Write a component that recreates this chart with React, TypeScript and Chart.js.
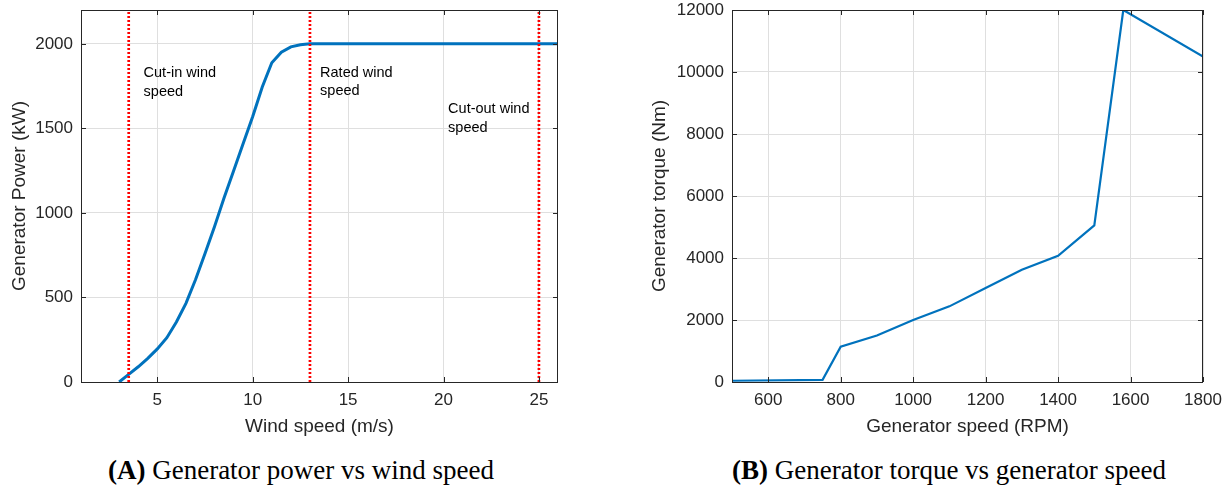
import React, { useEffect, useRef } from "react";
import { Chart, registerables } from "chart.js";

Chart.register(...registerables);

// (A) power curve of a 2 MW turbine
const windSpeed = [3, 3.5, 4, 4.5, 5, 5.5, 6, 6.5, 7, 7.5, 8, 8.5, 9, 9.5, 10, 10.5, 11, 11.5, 12, 12.5, 13, 26];
const generatorPower = [0, 45, 90, 140, 196, 262, 355, 465, 605, 760, 920, 1090, 1250, 1410, 1570, 1745, 1888, 1950, 1982, 1995, 2000, 2000];
const markerSpeeds = [3.5, 13, 25];
const markerLabels = [
  ["Cut-in wind", "speed"],
  ["Rated wind", "speed"],
  ["Cut-out wind", "speed"],
];
const markerLabelSpeed = [4.28, 13.53, 20.24];
const markerLabelPower = [1770, 1775, 1560];
const windTicks = [5, 10, 15, 20, 25];
const powerTicks = [0, 500, 1000, 1500, 2000];
const windRange = [1, 26];
const powerRange = [0, 2200];

// (B) torque against rotor speed
const generatorSpeed = [500, 750, 800, 900, 1000, 1100, 1200, 1300, 1400, 1500, 1580, 1800];
const generatorTorque = [40, 70, 1140, 1500, 2000, 2440, 3030, 3620, 4070, 5050, 12000, 10500];
const speedTicks = [600, 800, 1000, 1200, 1400, 1600, 1800];
const torqueTicks = [0, 2000, 4000, 6000, 8000, 10000, 12000];
const speedRange = [500, 1800];
const torqueRange = [0, 12000];

const AXIS = "#262626";
const GRID = "#dfdfdf";
const BLUE = "#0072BD";
const SANS = "'Liberation Sans', Arial, Helvetica, sans-serif";

type Label = { lines: string[]; x: number; y: number };

// box, inward tick marks on all four sides, and text labels in data coordinates
function framePlugin(labels: Label[]) {
  return {
    id: "frame",
    afterDatasetsDraw(chart: any) {
      const { ctx, chartArea: a, scales } = chart;
      const tl = 5;
      ctx.save();
      ctx.strokeStyle = AXIS;
      ctx.lineWidth = 1;
      ctx.beginPath();
      for (const t of scales.x.ticks) {
        const p = Math.round(scales.x.getPixelForValue(t.value)) + 0.5;
        ctx.moveTo(p, a.bottom);
        ctx.lineTo(p, a.bottom - tl);
        ctx.moveTo(p, a.top);
        ctx.lineTo(p, a.top + tl);
      }
      for (const t of scales.y.ticks) {
        const p = Math.round(scales.y.getPixelForValue(t.value)) + 0.5;
        ctx.moveTo(a.left, p);
        ctx.lineTo(a.left + tl, p);
        ctx.moveTo(a.right, p);
        ctx.lineTo(a.right - tl, p);
      }
      ctx.stroke();
      ctx.strokeRect(a.left + 0.5, a.top + 0.5, a.right - a.left - 1, a.bottom - a.top);

      ctx.fillStyle = "#000";
      ctx.font = `14.5px ${SANS}`;
      ctx.textAlign = "left";
      ctx.textBaseline = "middle";
      const lh = 18.7;
      for (const l of labels) {
        const x = scales.x.getPixelForValue(l.x);
        const yc = scales.y.getPixelForValue(l.y);
        const y0 = yc - ((l.lines.length - 1) * lh) / 2;
        l.lines.forEach((s, i) => ctx.fillText(s, x, y0 + i * lh));
      }
      ctx.restore();
    },
  };
}

type PanelSpec = {
  width: number;
  height: number;
  yAxisWidth: number;
  padRight: number;
  yTitlePad: number;
  xTitle: string;
  yTitle: string;
  xRange: number[];
  yRange: number[];
  xTicks: number[];
  yTicks: number[];
  datasets: any[];
  labels: Label[];
};

function Panel({ spec, left }: { spec: PanelSpec; left: number }) {
  const ref = useRef<HTMLCanvasElement>(null);
  useEffect(() => {
    const s = spec;
    const tickFont = { family: SANS, size: 17 };
    const titleFont = { family: SANS, size: 19 };
    const chart = new Chart(ref.current!, {
      type: "line",
      data: { datasets: s.datasets },
      plugins: [framePlugin(s.labels)],
      options: {
        animation: false,
        responsive: false,
        devicePixelRatio: 1,
        layout: { padding: { left: 0, right: s.padRight, top: 10, bottom: 0 } },
        plugins: { legend: { display: false }, tooltip: { enabled: false } },
        elements: { point: { radius: 0 } },
        scales: {
          x: {
            type: "linear",
            min: s.xRange[0],
            max: s.xRange[1],
            afterBuildTicks: (sc: any) => {
              sc.ticks = s.xTicks.map((v) => ({ value: v }));
            },
            afterFit: (sc: any) => {
              sc.height = s.height - 382;
              sc.paddingLeft = 0;
              sc.paddingRight = 0;
            },
            grid: { color: GRID, lineWidth: 1, drawTicks: false },
            border: { display: false },
            ticks: {
              padding: 8.5,
              color: AXIS,
              font: tickFont,
              maxRotation: 0,
              autoSkip: false,
              callback: (v: any) => String(v),
            },
            title: { display: true, text: s.xTitle, color: AXIS, font: titleFont, padding: { top: 0, bottom: 1.6 } },
          },
          y: {
            type: "linear",
            min: s.yRange[0],
            max: s.yRange[1],
            afterBuildTicks: (sc: any) => {
              sc.ticks = s.yTicks.map((v) => ({ value: v }));
            },
            afterFit: (sc: any) => {
              sc.width = s.yAxisWidth;
              sc.paddingTop = 0;
              sc.paddingBottom = 0;
            },
            grid: { color: GRID, lineWidth: 1, drawTicks: false },
            border: { display: false },
            ticks: {
              padding: 8,
              color: AXIS,
              font: tickFont,
              autoSkip: false,
              callback: (v: any) => String(v),
            },
            title: { display: true, text: s.yTitle, color: AXIS, font: titleFont, padding: { top: s.yTitlePad, bottom: 0 } },
          },
        },
      } as any,
    });
    return () => chart.destroy();
  }, [spec]);
  return (
    <canvas
      ref={ref}
      width={spec.width}
      height={spec.height}
      style={{ position: "absolute", left, top: 0, width: spec.width, height: spec.height }}
    />
  );
}

const markerDatasets = markerSpeeds.map((x) => ({
  data: [
    { x, y: powerRange[0] },
    { x, y: powerRange[1] },
  ],
  borderColor: "#ff0000",
  borderWidth: 2.7,
  borderDash: [2, 2],
  borderCapStyle: "butt",
}));

const powerSpec: PanelSpec = {
  width: 600,
  height: 440,
  yAxisWidth: 81,
  padRight: 42,
  yTitlePad: 8.5,
  xTitle: "Wind speed (m/s)",
  yTitle: "Generator Power (kW)",
  xRange: windRange,
  yRange: powerRange,
  xTicks: windTicks,
  yTicks: powerTicks,
  datasets: [
    ...markerDatasets,
    {
      data: windSpeed.map((x, i) => ({ x, y: generatorPower[i] })),
      borderColor: BLUE,
      borderWidth: 3,
      tension: 0,
    },
  ],
  labels: markerLabels.map((lines, i) => ({ lines, x: markerLabelSpeed[i], y: markerLabelPower[i] })),
};

const torqueSpec: PanelSpec = {
  width: 630,
  height: 440,
  yAxisWidth: 132,
  padRight: 27,
  yTitlePad: 48.6,
  xTitle: "Generator speed (RPM)",
  yTitle: "Generator torque (Nm)",
  xRange: speedRange,
  yRange: torqueRange,
  xTicks: speedTicks,
  yTicks: torqueTicks,
  datasets: [
    {
      data: generatorSpeed.map((x, i) => ({ x, y: generatorTorque[i] })),
      borderColor: BLUE,
      borderWidth: 2.2,
      tension: 0,
    },
  ],
  labels: [],
};

const captionStyle: React.CSSProperties = {
  position: "absolute",
  top: 457,
  width: 500,
  textAlign: "center",
  fontFamily: "'Liberation Serif', 'Times New Roman', Times, serif",
  fontSize: 27,
  lineHeight: "27px",
  color: "#000",
  whiteSpace: "nowrap",
};

export default function App() {
  return (
    <div style={{ position: "absolute", left: 0, top: 0, width: 1230, height: 487, overflow: "hidden", background: "#fff" }}>
      <Panel spec={powerSpec} left={0} />
      <Panel spec={torqueSpec} left={600} />
      <div style={{ ...captionStyle, left: 51 }}>
        <b>(A)</b> Generator power vs wind speed
      </div>
      <div style={{ ...captionStyle, left: 699 }}>
        <b>(B)</b> Generator torque vs generator speed
      </div>
    </div>
  );
}
